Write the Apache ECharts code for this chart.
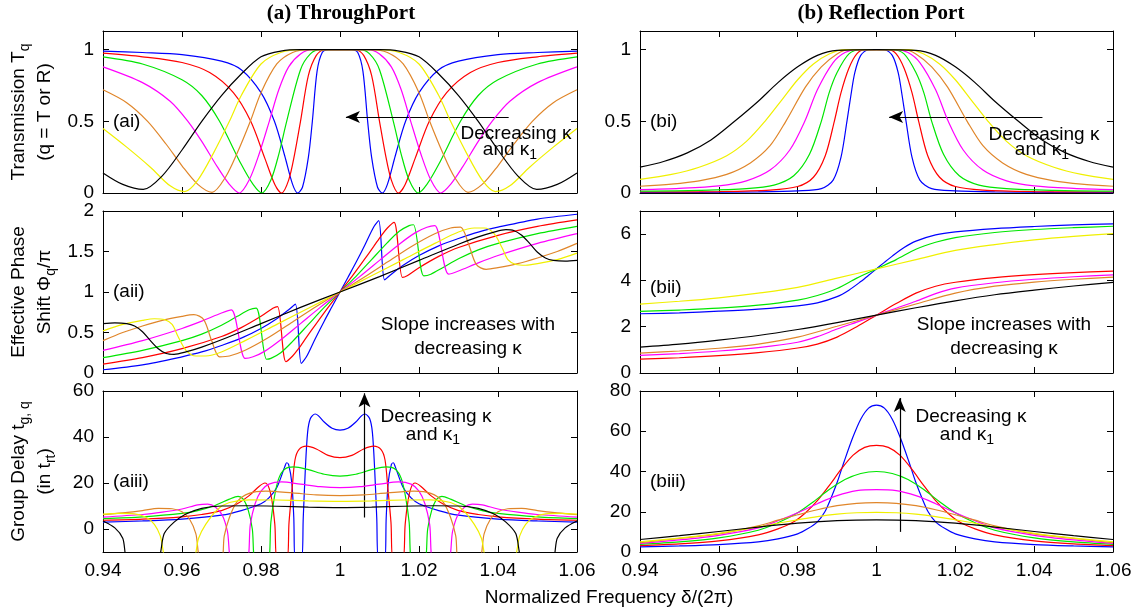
<!DOCTYPE html>
<html lang="en">
<head>
    <meta charset="UTF-8">
    <title>Through port and reflection port response</title>
    <script src="https://cdn.jsdelivr.net/npm/echarts@6.0.0/dist/echarts.min.js"></script>
    <style>html, body { margin: 0; padding: 0; background: #fff; }</style>
</head>
<body>
    <div id="chart" style="width: 1138px; height: 615px;"></div>

    <script>
        // ticks
        var xTicks = [0.94, 0.96, 0.98, 1, 1.02, 1.04, 1.06];
        var yTicksT = [0, 0.5, 1];
        var yTicksPhaseA = [0, 0.5, 1, 1.5, 2];
        var yTicksPhaseB = [0, 2, 4, 6];
        var yTicksDelayA = [0, 20, 40, 60];
        var yTicksDelayB = [0, 20, 40, 60, 80];

        // (ai) through port transmission
        var aiBlue = [[0.94,0.99],[0.95,0.98],[0.96,0.965],[0.97,0.92],[0.975,0.86],[0.98,0.70],[0.9834,0.50],[0.986,0.26],[0.988,0.06],[0.9893,0],[0.9905,0.04],[0.992,0.25],[0.993,0.50],[0.9942,0.85],[0.9955,0.98],[0.997,1],[1,1],[1.003,1],[1.0045,0.98],[1.0058,0.85],[1.007,0.50],[1.008,0.25],[1.0095,0.04],[1.0107,0],[1.012,0.06],[1.014,0.26],[1.0166,0.50],[1.02,0.70],[1.025,0.86],[1.03,0.92],[1.04,0.965],[1.05,0.98],[1.06,0.99]];
        var aiRed = [[0.94,0.975],[0.95,0.95],[0.96,0.91],[0.967,0.84],[0.973,0.70],[0.9774,0.50],[0.981,0.24],[0.9835,0.06],[0.9852,0],[0.987,0.09],[0.9885,0.27],[0.99,0.50],[0.992,0.82],[0.994,0.96],[0.996,1],[1,1],[1.004,1],[1.006,0.96],[1.008,0.82],[1.01,0.50],[1.0115,0.27],[1.013,0.09],[1.0148,0],[1.0165,0.06],[1.019,0.24],[1.0226,0.50],[1.027,0.70],[1.033,0.84],[1.04,0.91],[1.05,0.95],[1.06,0.975]];
        var aiGreen = [[0.94,0.95],[0.95,0.90],[0.96,0.79],[0.965,0.68],[0.9695,0.50],[0.975,0.20],[0.978,0.06],[0.9802,0],[0.9825,0.09],[0.9845,0.27],[0.9865,0.50],[0.99,0.86],[0.9925,0.97],[0.995,1],[1,1],[1.005,1],[1.0075,0.97],[1.01,0.86],[1.0135,0.50],[1.0155,0.27],[1.0175,0.09],[1.0198,0],[1.022,0.06],[1.025,0.20],[1.0305,0.50],[1.035,0.68],[1.04,0.79],[1.05,0.90],[1.06,0.95]];
        var aiMagenta = [[0.94,0.88],[0.95,0.77],[0.957,0.64],[0.9615,0.50],[0.965,0.36],[0.969,0.18],[0.972,0.06],[0.9745,0],[0.977,0.09],[0.9795,0.27],[0.9821,0.50],[0.9845,0.72],[0.987,0.88],[0.99,0.97],[0.993,1],[1,1],[1.007,1],[1.01,0.97],[1.013,0.88],[1.0155,0.72],[1.0179,0.50],[1.0205,0.27],[1.023,0.09],[1.0255,0],[1.028,0.06],[1.031,0.18],[1.035,0.36],[1.0385,0.50],[1.043,0.64],[1.05,0.77],[1.06,0.88]];
        var aiOrange = [[0.94,0.72],[0.946,0.63],[0.9513,0.50],[0.956,0.34],[0.96,0.19],[0.964,0.06],[0.9676,0.005],[0.971,0.11],[0.974,0.28],[0.9773,0.50],[0.98,0.70],[0.984,0.90],[0.988,0.98],[0.992,1],[1,1],[1.008,1],[1.012,0.98],[1.016,0.90],[1.02,0.70],[1.0227,0.50],[1.026,0.28],[1.029,0.11],[1.0324,0.005],[1.036,0.06],[1.04,0.19],[1.044,0.34],[1.0487,0.50],[1.054,0.63],[1.06,0.72]];
        var aiYellow = [[0.94,0.45],[0.946,0.32],[0.952,0.18],[0.957,0.05],[0.9607,0.01],[0.964,0.09],[0.968,0.28],[0.972,0.50],[0.975,0.68],[0.98,0.90],[0.985,0.98],[0.99,1],[1,1],[1.01,1],[1.015,0.98],[1.02,0.90],[1.025,0.68],[1.028,0.50],[1.032,0.28],[1.036,0.09],[1.0393,0.01],[1.043,0.05],[1.048,0.18],[1.054,0.32],[1.06,0.45]];
        var aiBlack = [[0.94,0.14],[0.945,0.06],[0.9502,0.025],[0.955,0.12],[0.96,0.30],[0.965,0.50],[0.97,0.68],[0.975,0.83],[0.98,0.95],[0.985,0.99],[0.99,1],[1,1],[1.01,1],[1.015,0.99],[1.02,0.95],[1.025,0.83],[1.03,0.68],[1.035,0.50],[1.04,0.30],[1.045,0.12],[1.0498,0.025],[1.055,0.06],[1.06,0.14]];

        // (bi) reflection port
        var biBlue = [[0.94,0.003],[0.955,0.004],[0.97,0.008],[0.98,0.015],[0.986,0.03],[0.989,0.09],[0.991,0.25],[0.9925,0.50],[0.9935,0.68],[0.9945,0.84],[0.996,0.96],[0.998,1],[1,1],[1.002,1],[1.004,0.96],[1.0055,0.84],[1.0065,0.68],[1.0075,0.50],[1.009,0.25],[1.011,0.09],[1.014,0.03],[1.02,0.015],[1.03,0.008],[1.045,0.004],[1.06,0.003]];
        var biRed = [[0.94,0.007],[0.96,0.01],[0.973,0.02],[0.98,0.045],[0.984,0.11],[0.987,0.26],[0.9893,0.50],[0.991,0.70],[0.993,0.87],[0.995,0.97],[0.997,1],[1,1],[1.003,1],[1.005,0.97],[1.007,0.87],[1.009,0.70],[1.0107,0.50],[1.013,0.26],[1.016,0.11],[1.02,0.045],[1.027,0.02],[1.04,0.01],[1.06,0.007]];
        var biGreen = [[0.94,0.013],[0.955,0.018],[0.967,0.03],[0.974,0.055],[0.979,0.12],[0.983,0.27],[0.986,0.50],[0.988,0.70],[0.99,0.84],[0.993,0.97],[0.996,1],[1,1],[1.004,1],[1.007,0.97],[1.01,0.84],[1.012,0.70],[1.014,0.50],[1.017,0.27],[1.021,0.12],[1.026,0.055],[1.033,0.03],[1.045,0.018],[1.06,0.013]];
        var biMagenta = [[0.94,0.023],[0.95,0.032],[0.96,0.05],[0.967,0.085],[0.973,0.16],[0.978,0.30],[0.9818,0.50],[0.985,0.72],[0.989,0.91],[0.992,0.98],[0.995,1],[1,1],[1.005,1],[1.008,0.98],[1.011,0.91],[1.015,0.72],[1.0182,0.50],[1.022,0.30],[1.027,0.16],[1.033,0.085],[1.04,0.05],[1.05,0.032],[1.06,0.023]];
        var biOrange = [[0.94,0.047],[0.948,0.062],[0.955,0.085],[0.962,0.13],[0.968,0.21],[0.973,0.33],[0.977,0.50],[0.982,0.74],[0.986,0.88],[0.99,0.97],[0.993,1],[1,1],[1.007,1],[1.01,0.97],[1.014,0.88],[1.018,0.74],[1.023,0.50],[1.027,0.33],[1.032,0.21],[1.038,0.13],[1.045,0.085],[1.052,0.062],[1.06,0.047]];
        var biYellow = [[0.94,0.095],[0.948,0.13],[0.955,0.18],[0.962,0.26],[0.967,0.36],[0.9717,0.50],[0.976,0.65],[0.98,0.79],[0.984,0.90],[0.988,0.97],[0.992,1],[1,1],[1.008,1],[1.012,0.97],[1.016,0.90],[1.02,0.79],[1.024,0.65],[1.0283,0.50],[1.033,0.36],[1.038,0.26],[1.045,0.18],[1.052,0.13],[1.06,0.095]];
        var biBlack = [[0.94,0.18],[0.946,0.22],[0.952,0.28],[0.958,0.37],[0.964,0.50],[0.97,0.64],[0.975,0.77],[0.98,0.88],[0.985,0.96],[0.99,0.995],[1,1],[1.01,0.995],[1.015,0.96],[1.02,0.88],[1.025,0.77],[1.03,0.64],[1.036,0.50],[1.042,0.37],[1.048,0.28],[1.054,0.22],[1.06,0.18]];

        // (aii) through port phase / pi
        var aiiBlue = [[0.94,0.04],[0.95,0.10],[0.96,0.20],[0.965,0.26],[0.97,0.34],[0.975,0.43],[0.98,0.55],[0.984,0.67],[0.987,0.78],[0.9887,0.85],[0.9902,0.12],[0.9915,0.20],[0.9937,0.42],[0.996,0.64],[0.998,0.82],[1,1],[1.002,1.18],[1.004,1.36],[1.0063,1.58],[1.0085,1.80],[1.0098,1.88],[1.0113,1.15],[1.013,1.22],[1.016,1.33],[1.02,1.45],[1.025,1.57],[1.03,1.66],[1.035,1.74],[1.04,1.80],[1.05,1.90],[1.06,1.96]];
        var aiiRed = [[0.94,0.11],[0.95,0.19],[0.96,0.30],[0.97,0.45],[0.975,0.56],[0.98,0.70],[0.983,0.80],[0.9842,0.82],[0.9863,0.14],[0.988,0.21],[0.9895,0.30],[0.9915,0.44],[0.994,0.61],[0.997,0.81],[1,1],[1.003,1.19],[1.006,1.39],[1.0085,1.56],[1.0105,1.70],[1.012,1.79],[1.0137,1.86],[1.0158,1.18],[1.017,1.20],[1.02,1.30],[1.025,1.44],[1.03,1.55],[1.04,1.70],[1.05,1.81],[1.06,1.89]];
        var aiiGreen = [[0.94,0.19],[0.95,0.28],[0.96,0.40],[0.965,0.48],[0.97,0.59],[0.974,0.70],[0.977,0.78],[0.9788,0.80],[0.9814,0.17],[0.9825,0.18],[0.985,0.25],[0.988,0.39],[0.992,0.60],[0.996,0.81],[1,1],[1.004,1.19],[1.008,1.40],[1.012,1.61],[1.015,1.75],[1.0175,1.82],[1.0186,1.83],[1.0212,1.20],[1.023,1.22],[1.026,1.30],[1.03,1.41],[1.035,1.52],[1.04,1.60],[1.05,1.72],[1.06,1.81]];
        var aiiMagenta = [[0.94,0.28],[0.95,0.40],[0.96,0.55],[0.965,0.64],[0.97,0.74],[0.9725,0.78],[0.976,0.18],[0.978,0.20],[0.981,0.27],[0.985,0.41],[0.99,0.61],[0.995,0.81],[1,1],[1.005,1.19],[1.01,1.39],[1.015,1.59],[1.019,1.73],[1.022,1.80],[1.024,1.82],[1.0275,1.22],[1.03,1.26],[1.035,1.36],[1.04,1.45],[1.05,1.60],[1.06,1.72]];
        var aiiOrange = [[0.94,0.40],[0.945,0.50],[0.95,0.58],[0.955,0.65],[0.96,0.70],[0.963,0.72],[0.9655,0.66],[0.9675,0.40],[0.9695,0.20],[0.972,0.21],[0.976,0.28],[0.982,0.44],[0.988,0.63],[0.994,0.82],[1,1],[1.006,1.18],[1.012,1.37],[1.018,1.56],[1.024,1.72],[1.028,1.79],[1.0305,1.80],[1.0325,1.60],[1.0345,1.34],[1.037,1.28],[1.04,1.30],[1.045,1.35],[1.05,1.42],[1.055,1.50],[1.06,1.60]];
        var aiiYellow = [[0.94,0.52],[0.945,0.60],[0.95,0.65],[0.953,0.67],[0.9555,0.66],[0.9575,0.60],[0.959,0.45],[0.961,0.28],[0.9635,0.21],[0.966,0.21],[0.97,0.26],[0.976,0.40],[0.984,0.60],[0.992,0.80],[1,1],[1.008,1.20],[1.016,1.40],[1.024,1.60],[1.03,1.74],[1.034,1.79],[1.0365,1.79],[1.039,1.72],[1.041,1.55],[1.0425,1.40],[1.0445,1.34],[1.047,1.33],[1.05,1.35],[1.055,1.40],[1.06,1.48]];
        var aiiBlack = [[0.94,0.61],[0.943,0.62],[0.946,0.61],[0.948,0.58],[0.95,0.51],[0.952,0.40],[0.954,0.30],[0.956,0.24],[0.958,0.23],[0.961,0.26],[0.965,0.32],[0.97,0.41],[0.98,0.61],[0.99,0.81],[1,1],[1.01,1.19],[1.02,1.39],[1.03,1.59],[1.035,1.68],[1.039,1.74],[1.042,1.77],[1.044,1.76],[1.046,1.70],[1.048,1.60],[1.05,1.49],[1.052,1.42],[1.054,1.39],[1.057,1.38],[1.06,1.39]];

        // (bii) reflection port phase / pi
        var biiBlue = [[0.94,2.56],[0.95,2.60],[0.96,2.67],[0.97,2.76],[0.98,2.90],[0.985,3.03],[0.99,3.30],[0.993,3.58],[0.996,3.95],[0.998,4.22],[1,4.50],[1.002,4.78],[1.004,5.05],[1.007,5.42],[1.01,5.70],[1.015,5.97],[1.02,6.10],[1.03,6.24],[1.04,6.33],[1.05,6.40],[1.06,6.44]];
        var biiRed = [[0.94,0.60],[0.95,0.66],[0.96,0.75],[0.97,0.88],[0.98,1.08],[0.985,1.25],[0.99,1.55],[0.995,2.00],[1,2.50],[1.005,3.00],[1.01,3.45],[1.015,3.75],[1.02,3.92],[1.03,4.12],[1.04,4.25],[1.05,4.34],[1.06,4.40]];
        var biiGreen = [[0.94,2.66],[0.95,2.72],[0.96,2.80],[0.97,2.93],[0.98,3.15],[0.985,3.35],[0.99,3.65],[0.995,4.10],[1,4.50],[1.005,4.90],[1.01,5.35],[1.015,5.65],[1.02,5.85],[1.03,6.07],[1.04,6.20],[1.05,6.28],[1.06,6.34]];
        var biiMagenta = [[0.94,0.76],[0.95,0.84],[0.96,0.95],[0.97,1.10],[0.98,1.33],[0.985,1.57],[0.99,1.90],[0.995,2.20],[1,2.50],[1.005,2.80],[1.01,3.10],[1.015,3.43],[1.02,3.67],[1.03,3.90],[1.04,4.05],[1.05,4.16],[1.06,4.24]];
        var biiOrange = [[0.94,0.86],[0.95,0.95],[0.96,1.07],[0.97,1.25],[0.98,1.55],[0.99,2.02],[1,2.50],[1.01,2.98],[1.02,3.45],[1.03,3.75],[1.04,3.93],[1.05,4.05],[1.06,4.14]];
        var biiYellow = [[0.94,2.98],[0.95,3.10],[0.96,3.25],[0.97,3.45],[0.98,3.70],[0.99,4.10],[1,4.50],[1.01,4.90],[1.02,5.30],[1.03,5.55],[1.04,5.75],[1.05,5.90],[1.06,6.02]];
        var biiBlack = [[0.94,1.12],[0.95,1.25],[0.96,1.42],[0.97,1.62],[0.98,1.88],[0.99,2.18],[1,2.50],[1.01,2.82],[1.02,3.12],[1.03,3.38],[1.04,3.58],[1.05,3.76],[1.06,3.92]];

        // (aiii) through port group delay
        var aiiiBlue = [[0.94,3],[0.95,3.5],[0.96,4.3],[0.97,6],[0.975,8],[0.98,11],[0.982,13.5],[0.984,18],[0.986,27],[0.9865,28.8],[0.987,28],[0.9878,20],[0.9883,5],[0.9887,-14],[0.9902,-14],[0.9907,5],[0.9912,25],[0.9918,42],[0.9925,48],[0.9937,50],[0.9945,49.3],[0.996,46.5],[0.998,43.8],[1,43],[1.002,43.8],[1.004,46.5],[1.0055,49.3],[1.0063,50],[1.0075,48],[1.0082,42],[1.0088,25],[1.0093,5],[1.0098,-14],[1.0113,-14],[1.0117,5],[1.0122,20],[1.013,28],[1.0135,28.8],[1.014,27],[1.016,18],[1.018,13.5],[1.02,11],[1.025,8],[1.03,6],[1.04,4.3],[1.05,3.5],[1.06,3]];
        var aiiiRed = [[0.94,3.8],[0.95,4.3],[0.96,5.3],[0.965,6.3],[0.97,8],[0.974,11],[0.977,14.5],[0.9795,18.5],[0.981,20],[0.982,18],[0.9828,12],[0.9835,2],[0.9842,-14],[0.9865,-14],[0.9871,3],[0.9879,18],[0.9886,30],[0.9896,34.5],[0.9915,36],[0.994,34.8],[0.997,32],[1,31],[1.003,32],[1.006,34.8],[1.0085,36],[1.0104,34.5],[1.0114,30],[1.0121,18],[1.0129,3],[1.0135,-14],[1.0158,-14],[1.0165,2],[1.0172,12],[1.018,18],[1.019,20],[1.0205,18.5],[1.023,14.5],[1.026,11],[1.03,8],[1.035,6.3],[1.04,5.3],[1.05,4.3],[1.06,3.8]];
        var aiiiGreen = [[0.94,4.5],[0.95,5.3],[0.96,6.8],[0.964,8],[0.968,10],[0.972,13],[0.9742,14.2],[0.9755,13],[0.9768,8],[0.9778,0],[0.9787,-14],[0.9817,-14],[0.9825,3],[0.9834,14],[0.9845,22],[0.986,26],[0.9883,27],[0.992,25.8],[0.996,23.8],[1,23],[1.004,23.8],[1.008,25.8],[1.0117,27],[1.014,26],[1.0155,22],[1.0166,14],[1.0175,3],[1.0183,-14],[1.0213,-14],[1.0222,0],[1.0232,8],[1.0245,13],[1.0258,14.2],[1.028,13],[1.032,10],[1.036,8],[1.04,6.8],[1.05,5.3],[1.06,4.5]];
        var aiiiMagenta = [[0.94,5.2],[0.95,6.3],[0.955,7.3],[0.96,8.7],[0.964,10.5],[0.9665,10.8],[0.9685,9.5],[0.9702,6],[0.9715,-1],[0.9727,-14],[0.9763,-14],[0.9773,2],[0.9785,11],[0.98,16.5],[0.982,19.5],[0.9852,20.5],[0.99,19.5],[0.995,18.4],[1,18],[1.005,18.4],[1.01,19.5],[1.0148,20.5],[1.018,19.5],[1.02,16.5],[1.0215,11],[1.0227,2],[1.0237,-14],[1.0273,-14],[1.0285,-1],[1.0298,6],[1.0315,9.5],[1.0335,10.8],[1.036,10.5],[1.04,8.7],[1.045,7.3],[1.05,6.3],[1.06,5.2]];
        var aiiiOrange = [[0.94,6.2],[0.945,7],[0.95,8],[0.954,9],[0.9575,8.8],[0.96,7.5],[0.962,4],[0.9635,-2],[0.965,-14],[0.9698,-14],[0.9707,-3],[0.972,5],[0.974,12],[0.977,15.5],[0.9812,16.5],[0.988,15.7],[0.994,14.8],[1,14.5],[1.006,14.8],[1.012,15.7],[1.0188,16.5],[1.023,15.5],[1.026,12],[1.028,5],[1.0293,-3],[1.0302,-14],[1.035,-14],[1.0365,-2],[1.038,4],[1.04,7.5],[1.0425,8.8],[1.046,9],[1.05,8],[1.055,7],[1.06,6.2]];
        var aiiiYellow = [[0.94,6.5],[0.944,6.8],[0.948,6.6],[0.951,5],[0.953,2],[0.9545,-3],[0.9564,-14],[0.9625,-14],[0.9642,-4],[0.966,2],[0.969,8.5],[0.972,11.5],[0.977,12.7],[0.984,12.6],[0.992,12.2],[1,12],[1.008,12.2],[1.016,12.6],[1.023,12.7],[1.028,11.5],[1.031,8.5],[1.034,2],[1.0358,-4],[1.0375,-14],[1.0436,-14],[1.0455,-3],[1.047,2],[1.049,5],[1.052,6.6],[1.056,6.8],[1.06,6.5]];
        var aiiiBlack = [[0.94,3.5],[0.943,0.5],[0.945,-4],[0.9465,-14],[0.9535,-14],[0.9555,-2],[0.958,3],[0.961,6.5],[0.965,9],[0.97,10],[0.976,10.1],[0.984,9.9],[0.992,9.5],[1,9.3],[1.008,9.5],[1.016,9.9],[1.024,10.1],[1.03,10],[1.035,9],[1.039,6.5],[1.042,3],[1.0445,-2],[1.0465,-14],[1.0535,-14],[1.055,-4],[1.057,0.5],[1.06,3.5]];

        // (biii) reflection port group delay
        var biiiBlue = [[0.94,2.5],[0.95,3],[0.96,3.7],[0.97,5],[0.975,6.5],[0.98,9],[0.9825,11.5],[0.985,15],[0.9869,20],[0.9885,27],[0.9901,35],[0.9918,45],[0.994,57],[0.996,66],[0.998,71.5],[1,73],[1.002,71.5],[1.004,66],[1.006,57],[1.0082,45],[1.0099,35],[1.0115,27],[1.0131,20],[1.015,15],[1.0175,11.5],[1.02,9],[1.025,6.5],[1.03,5],[1.04,3.7],[1.05,3],[1.06,2.5]];
        var biiiRed = [[0.94,3.2],[0.95,4],[0.96,5.5],[0.97,8.5],[0.975,11.5],[0.979,15],[0.982,19.5],[0.985,25.5],[0.988,33],[0.991,41],[0.994,48],[0.997,52],[1,53],[1.003,52],[1.006,48],[1.009,41],[1.012,33],[1.015,25.5],[1.018,19.5],[1.021,15],[1.025,11.5],[1.03,8.5],[1.04,5.5],[1.05,4],[1.06,3.2]];
        var biiiGreen = [[0.94,3.8],[0.95,5],[0.96,7],[0.97,10.8],[0.975,14.5],[0.98,19.5],[0.984,25],[0.988,31],[0.992,36],[0.996,39],[1,40],[1.004,39],[1.008,36],[1.012,31],[1.016,25],[1.02,19.5],[1.025,14.5],[1.03,10.8],[1.04,7],[1.05,5],[1.06,3.8]];
        var biiiMagenta = [[0.94,4.3],[0.95,6],[0.96,8.3],[0.97,12],[0.975,15.5],[0.98,19.5],[0.985,24],[0.99,28],[0.995,30.5],[1,31],[1.005,30.5],[1.01,28],[1.015,24],[1.02,19.5],[1.025,15.5],[1.03,12],[1.04,8.3],[1.05,6],[1.06,4.3]];
        var biiiOrange = [[0.94,4.6],[0.95,6.8],[0.96,9],[0.97,13],[0.975,15.8],[0.98,18.5],[0.985,21],[0.99,23],[0.995,24.2],[1,24.5],[1.005,24.2],[1.01,23],[1.015,21],[1.02,18.5],[1.025,15.8],[1.03,13],[1.04,9],[1.05,6.8],[1.06,4.6]];
        var biiiYellow = [[0.94,5.1],[0.95,6.9],[0.96,9.3],[0.97,12.5],[0.975,14.3],[0.98,16],[0.985,17.6],[0.99,18.8],[0.995,19.5],[1,19.7],[1.005,19.5],[1.01,18.8],[1.015,17.6],[1.02,16],[1.025,14.3],[1.03,12.5],[1.04,9.3],[1.05,6.9],[1.06,5.1]];
        var biiiBlack = [[0.94,6.2],[0.95,8.1],[0.96,10.2],[0.97,12.4],[0.98,14.3],[0.99,15.6],[1,16],[1.01,15.6],[1.02,14.3],[1.03,12.4],[1.04,10.2],[1.05,8.1],[1.06,6.2]];

        var FONT = 'Liberation Sans';
        var colors = ['#0000ff', '#ff0000', '#00e600', '#ff00ff', '#e0862a', '#f0f000', '#000000'];
        var subStyle = { fontSize: 14, fontFamily: FONT, color: '#000', fill: '#000', lineHeight: 14, verticalAlign: 'bottom' };

        var panels = [
            { grid: { left: 103, top: 31, width: 474, height: 162 }, min: 0, max: 1.13, ticks: yTicksT,
              curves: [aiBlue, aiRed, aiGreen, aiMagenta, aiOrange, aiYellow, aiBlack],
              name: 'Transmission T{sub|q}\n(q = T or R)', arrow: [[1.0427, 0.53], [1.0015, 0.53]] },
            { grid: { left: 640, top: 31, width: 473, height: 162 }, min: 0, max: 1.13, ticks: yTicksT,
              curves: [biBlue, biRed, biGreen, biMagenta, biOrange, biYellow, biBlack],
              arrow: [[1.0421, 0.53], [1.0032, 0.53]] },
            { grid: { left: 103, top: 211, width: 474, height: 162 }, min: 0, max: 2, ticks: yTicksPhaseA,
              curves: [aiiBlue, aiiRed, aiiGreen, aiiMagenta, aiiOrange, aiiYellow, aiiBlack],
              name: 'Effective Phase\nShift \u03a6{sub|q}/\u03c0' },
            { grid: { left: 640, top: 211, width: 473, height: 162 }, min: 0, max: 7, ticks: yTicksPhaseB,
              curves: [biiBlue, biiRed, biiGreen, biiMagenta, biiOrange, biiYellow, biiBlack] },
            { grid: { left: 103, top: 391, width: 474, height: 161 }, min: -10, max: 60, ticks: yTicksDelayA,
              curves: [aiiiBlue, aiiiRed, aiiiGreen, aiiiMagenta, aiiiOrange, aiiiYellow, aiiiBlack],
              name: 'Group Delay t{sub|g, q}\n(in t{sub|rt})', arrow: [[1.0062, 5], [1.0062, 59]] },
            { grid: { left: 640, top: 391, width: 473, height: 161 }, min: 0, max: 80, ticks: yTicksDelayB,
              curves: [biiiBlue, biiiRed, biiiGreen, biiiMagenta, biiiOrange, biiiYellow, biiiBlack],
              arrow: [[1.0059, 10], [1.0059, 76.5]] }
        ];

        var grids = [], xAxes = [], yAxes = [], series = [];
        var lineBlack = { color: '#000', width: 1 };

        panels.forEach(function (p, i) {
            grids.push(Object.assign({ containLabel: false, outerBoundsMode: 'none' }, p.grid));
            var bottomRow = i >= 4;
            ['bottom', 'top'].forEach(function (pos) {
                xAxes.push({
                    type: 'value', gridIndex: i, position: pos, min: 0.94, max: 1.06,
                    axisLine: { show: true, onZero: false, lineStyle: lineBlack },
                    axisTick: { show: true, inside: true, length: 6, customValues: xTicks, lineStyle: lineBlack },
                    axisLabel: { show: bottomRow && pos === 'bottom', customValues: xTicks, margin: 9,
                                 color: '#000', fontSize: 19, fontFamily: FONT },
                    splitLine: { show: false }
                });
            });
            ['left', 'right'].forEach(function (pos) {
                var ax = {
                    type: 'value', gridIndex: i, position: pos, min: p.min, max: p.max,
                    axisLine: { show: true, onZero: false, lineStyle: lineBlack },
                    axisTick: { show: true, inside: true, length: 6, customValues: p.ticks, lineStyle: lineBlack },
                    axisLabel: { show: pos === 'left', customValues: p.ticks, margin: 9,
                                 color: '#000', fontSize: 19, fontFamily: FONT },
                    splitLine: { show: false }
                };
                if (pos === 'left' && p.name) {
                    ax.name = p.name;
                    ax.nameLocation = 'middle';
                    ax.nameRotate = 90;
                    ax.nameGap = 45;
                    ax.nameTextStyle = { fontFamily: FONT, fontSize: 19, color: '#000', lineHeight: 26,
                                         rich: { sub: subStyle } };
                }
                yAxes.push(ax);
            });
            p.curves.forEach(function (c, k) {
                var s = {
                    type: 'line', xAxisIndex: 2 * i, yAxisIndex: 2 * i, data: c,
                    showSymbol: false, symbol: 'none', smooth: 0.3, clip: true,
                    lineStyle: { color: colors[k], width: 1.2 }, itemStyle: { color: colors[k] },
                    silent: true, animation: false, z: 2 + k
                };
                if (k === 6 && p.arrow) {
                    s.markLine = {
                        silent: true, animation: false, symbol: ['none', 'arrow'], symbolSize: [9, 14],
                        label: { show: false }, lineStyle: { color: '#000', width: 1.2, type: 'solid' },
                        data: [[{ coord: p.arrow[0] }, { coord: p.arrow[1] }]]
                    };
                }
                series.push(s);
            });
        });

        function txt(x, y, text, extra) {
            return {
                type: 'text', x: x, y: y, silent: true, z: 100,
                style: Object.assign({
                    text: text, fill: '#000', fontFamily: FONT, fontSize: 19, lineHeight: 24,
                    align: 'center', verticalAlign: 'middle', textAlign: 'center', textVerticalAlign: 'middle',
                    rich: { sub: subStyle }
                }, extra || {})
            };
        }
        var leftAl = { align: 'left', textAlign: 'left' };
        var titleFont = { fontFamily: 'Liberation Serif', fontWeight: 'bold', fontSize: 21 };

        var graphics = [
            txt(341, 14, '(a) ThroughPort', titleFont),
            txt(881, 14, '(b) Reflection Port', titleFont),
            txt(609, 598, 'Normalized Frequency \u03b4/(2\u03c0)'),
            txt(113, 122, '(ai)', leftAl),
            txt(650, 122, '(bi)', leftAl),
            txt(113, 292, '(aii)', leftAl),
            txt(650, 288, '(bii)', leftAl),
            txt(113, 482, '(aiii)', leftAl),
            txt(650, 482, '(biii)', leftAl),
            txt(516, 134, 'Decreasing \u03ba'),
            txt(510, 150, 'and \u03ba{sub|1}'),
            txt(1044, 135, 'Decreasing \u03ba'),
            txt(1042, 150, 'and \u03ba{sub|1}'),
            txt(468, 325, 'Slope increases with'),
            txt(468, 349, 'decreasing \u03ba'),
            txt(1004, 325, 'Slope increases with'),
            txt(1004, 349, 'decreasing \u03ba'),
            txt(436, 417, 'Decreasing \u03ba'),
            txt(433, 435, 'and \u03ba{sub|1}'),
            txt(971, 417, 'Decreasing \u03ba'),
            txt(967, 435, 'and \u03ba{sub|1}')
        ];

        var chart = echarts.init(document.getElementById('chart'));
        chart.setOption({
            animation: false,
            backgroundColor: '#fff',
            textStyle: { fontFamily: FONT, color: '#000' },
            grid: grids,
            xAxis: xAxes,
            yAxis: yAxes,
            series: series,
            graphic: graphics
        });
    </script>
</body>
</html>
